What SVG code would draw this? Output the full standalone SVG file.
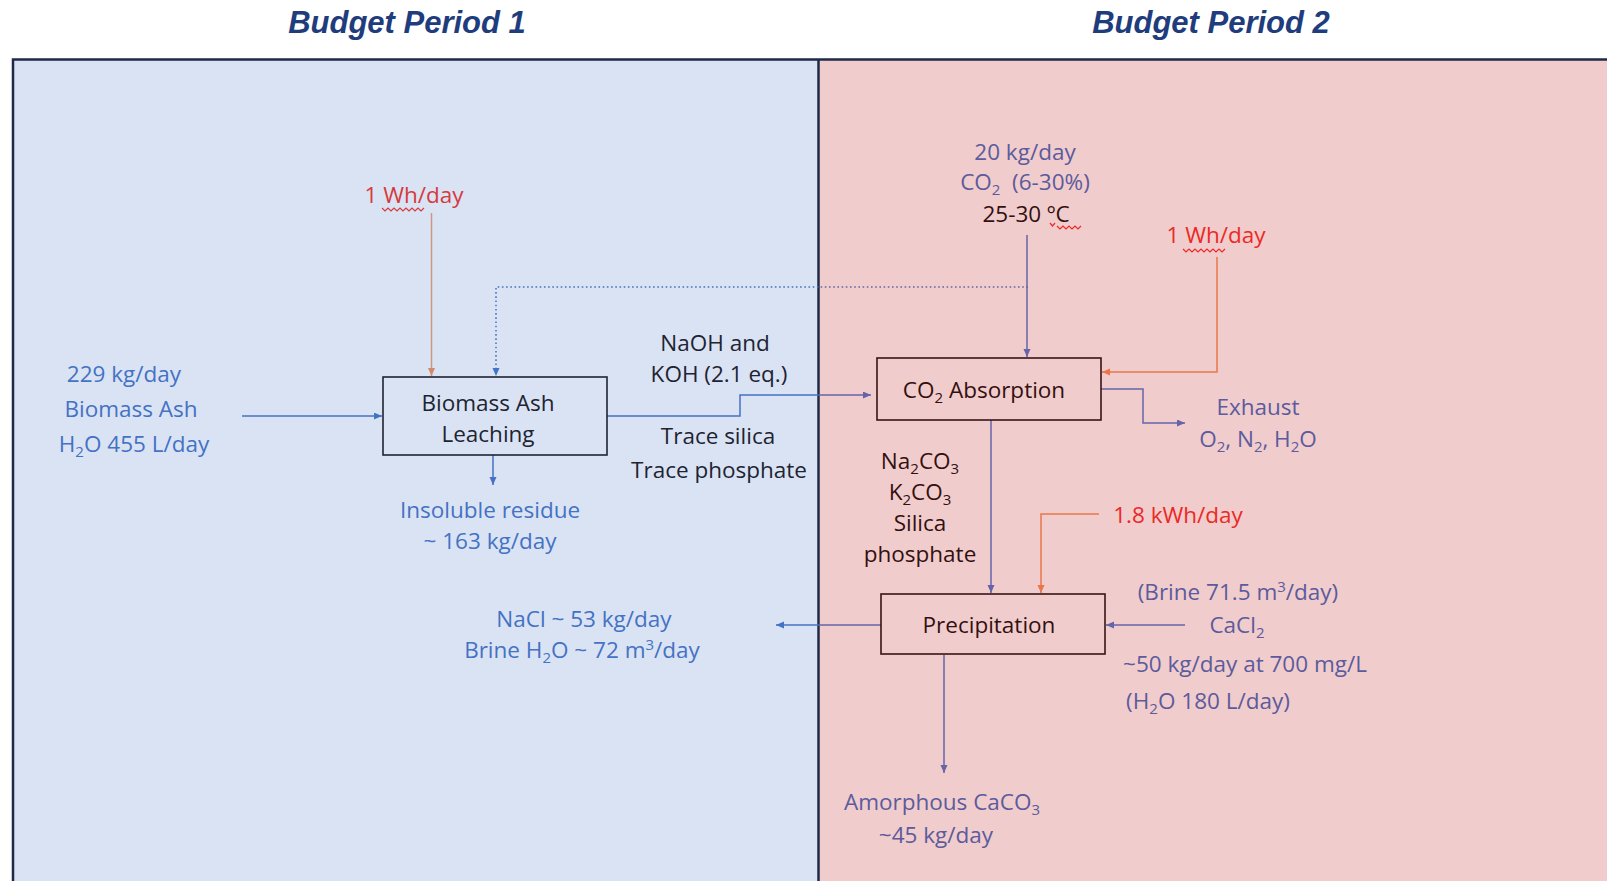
<svg xmlns="http://www.w3.org/2000/svg" width="1607" height="881" viewBox="0 0 1607 881">
<style>
text{font-family:"Open Sans","Liberation Sans",sans-serif;font-size:22.5px;text-anchor:middle}
.title{font-family:"Liberation Sans",Arial,sans-serif;font-weight:bold;font-style:italic;font-size:31px;fill:#1f3d7c}
.lb{fill:#4472c4}.rp{fill:#5b5b9d}.ld{fill:#1e2432}.rd{fill:#331010}.lr{fill:#d63a3c}.rr{fill:#ea2a26}
.sub{font-size:15px}
.ln{fill:none;stroke-width:1.5}
.cb{stroke:#4472c4}.cp{stroke:#6464a8}.co{stroke:#e8774a}.ct{stroke:#cf9680}
.dot{stroke-dasharray:1.6 2.6}
.boxl{fill:none;stroke:#1e2432;stroke-width:1.6}
.boxr{fill:none;stroke:#3a1414;stroke-width:1.6}
.sq{fill:none;stroke-width:1.2}
</style>
<defs>
<marker id="mb" markerUnits="userSpaceOnUse" markerWidth="9" markerHeight="8" refX="8" refY="3.5" orient="auto"><path d="M0,0 L8,3.5 L0,7 z" fill="#4472c4"/></marker>
<marker id="mp" markerUnits="userSpaceOnUse" markerWidth="9" markerHeight="8" refX="8" refY="3.5" orient="auto"><path d="M0,0 L8,3.5 L0,7 z" fill="#6464a8"/></marker>
<marker id="mo" markerUnits="userSpaceOnUse" markerWidth="9" markerHeight="8" refX="8" refY="3.5" orient="auto"><path d="M0,0 L8,3.5 L0,7 z" fill="#e8774a"/></marker>
<marker id="mt" markerUnits="userSpaceOnUse" markerWidth="9" markerHeight="8" refX="8" refY="3.5" orient="auto"><path d="M0,0 L8,3.5 L0,7 z" fill="#d08a6a"/></marker>
</defs>
<rect x="0" y="0" width="1607" height="881" fill="#ffffff"/>
<g id="regions">
<rect x="13" y="59.5" width="805.5" height="840" fill="#dae3f3"/>
<rect x="818.5" y="59.5" width="800" height="840" fill="#f1cccc"/>
<path d="M13,900 V59.5 H1620" fill="none" stroke="#1f2a48" stroke-width="2.5"/>
<line x1="818.5" y1="59.5" x2="818.5" y2="900" stroke="#1f2a48" stroke-width="2.5"/>
</g>
<g id="titles">
<text class="title" x="407" y="33">Budget Period 1</text>
<text class="title" x="1211" y="33">Budget Period 2</text>
</g>
<g id="connectors">
<path class="ln ct" d="M431.5,213 V376" marker-end="url(#mt)"/>
<path class="ln cp dot" d="M1028,287 H818.5"/>
<path class="ln cb dot" d="M818.5,287 H496 V376" marker-end="url(#mb)"/>
<path class="ln cb" d="M242,416 H382" marker-end="url(#mb)"/>
<path class="ln cb" d="M493,455 V485" marker-end="url(#mb)"/>
<path class="ln cb" d="M607,416 H740 V395 H818.5"/>
<path class="ln cp" d="M818.5,395 H871" marker-end="url(#mp)"/>
<path class="ln cp" d="M1027,235 V357" marker-end="url(#mp)"/>
<path class="ln co" d="M1217,257 V372 H1102" marker-end="url(#mo)"/>
<path class="ln cp" d="M1101,389 H1143 V423 H1185" marker-end="url(#mp)"/>
<path class="ln cp" d="M991,420 V593" marker-end="url(#mp)"/>
<path class="ln co" d="M1099,514 H1041 V593" marker-end="url(#mo)"/>
<path class="ln cp" d="M1185,625 H1106" marker-end="url(#mp)"/>
<path class="ln cp" d="M881,625 H818.5"/>
<path class="ln cb" d="M818.5,625 H776" marker-end="url(#mb)"/>
<path class="ln cp" d="M944,655 V773" marker-end="url(#mp)"/>
</g>
<g id="node-leaching">
<rect class="boxl" x="383" y="377" width="224" height="78"/>
<text class="ld" x="488" y="411">Biomass Ash</text>
<text class="ld" x="488" y="442">Leaching</text>
</g>
<g id="node-co2-absorption">
<rect class="boxr" x="877" y="358" width="224" height="62"/>
<text class="rd" x="984" y="398">CO<tspan class="sub" dy="5">2</tspan><tspan dy="-5"> Absorption</tspan></text>
</g>
<g id="node-precipitation">
<rect class="boxr" x="881" y="594" width="224" height="60"/>
<text class="rd" x="989" y="633">Precipitation</text>
</g>
<g id="label-energy-left">
<text class="lr" x="414" y="203">1 Wh/day</text>
<path class="sq" stroke="#d63a3c" d="M382,208 l3,3 l3,-3 l3,3 l3,-3 l3,3 l3,-3 l3,3 l3,-3 l3,3 l3,-3 l3,3 l3,-3 l3,3 l3,-3"/>
</g>
<g id="label-feed">
<text class="lb" x="124" y="382">229 kg/day</text>
<text class="lb" x="131" y="417">Biomass Ash</text>
<text class="lb" x="134" y="452">H<tspan class="sub" dy="5">2</tspan><tspan dy="-5">O 455 L/day</tspan></text>
</g>
<g id="label-insoluble">
<text class="lb" x="490" y="518">Insoluble residue</text>
<text class="lb" x="490" y="549">~ 163 kg/day</text>
</g>
<g id="label-leachate">
<text class="ld" x="715" y="351">NaOH and</text>
<text class="ld" x="719" y="382">KOH (2.1 eq.)</text>
<text class="ld" x="718" y="444">Trace silica</text>
<text class="ld" x="719" y="478">Trace phosphate</text>
</g>
<g id="label-co2-feed">
<text class="rp" x="1025" y="160">20 kg/day</text>
<text class="rp" x="1025" y="190" xml:space="preserve">CO<tspan class="sub" dy="5">2</tspan><tspan dy="-5">  (6-30%)</tspan></text>
<text class="rd" x="1026" y="222">25-30 ºC</text>
<path class="sq" stroke="#ea2a26" d="M1050,223 l2.5,3 l2.5,-3 M1057,226 l3,3 l3,-3 l3,3 l3,-3 l3,3 l3,-3 l3,3 l3,-3"/>
</g>
<g id="label-energy-right">
<text class="rr" x="1216" y="243">1 Wh/day</text>
<path class="sq" stroke="#ea2a26" d="M1183,249 l3,3 l3,-3 l3,3 l3,-3 l3,3 l3,-3 l3,3 l3,-3 l3,3 l3,-3 l3,3 l3,-3 l3,3 l3,-3"/>
</g>
<g id="label-exhaust">
<text class="rp" x="1258" y="415">Exhaust</text>
<text class="rp" x="1258" y="447">O<tspan class="sub" dy="5">2</tspan><tspan dy="-5">, N</tspan><tspan class="sub" dy="5">2</tspan><tspan dy="-5">, H</tspan><tspan class="sub" dy="5">2</tspan><tspan dy="-5">O</tspan></text>
</g>
<g id="label-carbonates">
<text class="rd" x="920" y="469">Na<tspan class="sub" dy="5">2</tspan><tspan dy="-5">CO</tspan><tspan class="sub" dy="5">3</tspan></text>
<text class="rd" x="920" y="500">K<tspan class="sub" dy="5">2</tspan><tspan dy="-5">CO</tspan><tspan class="sub" dy="5">3</tspan></text>
<text class="rd" x="920" y="531">Silica</text>
<text class="rd" x="920" y="562">phosphate</text>
</g>
<g id="label-energy-precip">
<text class="rr" x="1178" y="523">1.8 kWh/day</text>
</g>
<g id="label-cacl2">
<text class="rp" x="1238" y="600">(Brine 71.5 m<tspan class="sub" dy="-8">3</tspan><tspan dy="8">/day)</tspan></text>
<text class="rp" x="1237" y="633">CaCl<tspan class="sub" dy="5">2</tspan></text>
<text class="rp" x="1245" y="672">~50 kg/day at 700 mg/L</text>
<text class="rp" x="1208" y="709">(H<tspan class="sub" dy="5">2</tspan><tspan dy="-5">O 180 L/day)</tspan></text>
</g>
<g id="label-nacl">
<text class="lb" x="584" y="627">NaCl ~ 53 kg/day</text>
<text class="lb" x="582" y="658">Brine H<tspan class="sub" dy="5">2</tspan><tspan dy="-5">O ~ 72 m</tspan><tspan class="sub" dy="-8">3</tspan><tspan dy="8">/day</tspan></text>
</g>
<g id="label-caco3">
<text class="rp" x="942" y="810">Amorphous CaCO<tspan class="sub" dy="5">3</tspan></text>
<text class="rp" x="936" y="843">~45 kg/day</text>
</g>
</svg>
